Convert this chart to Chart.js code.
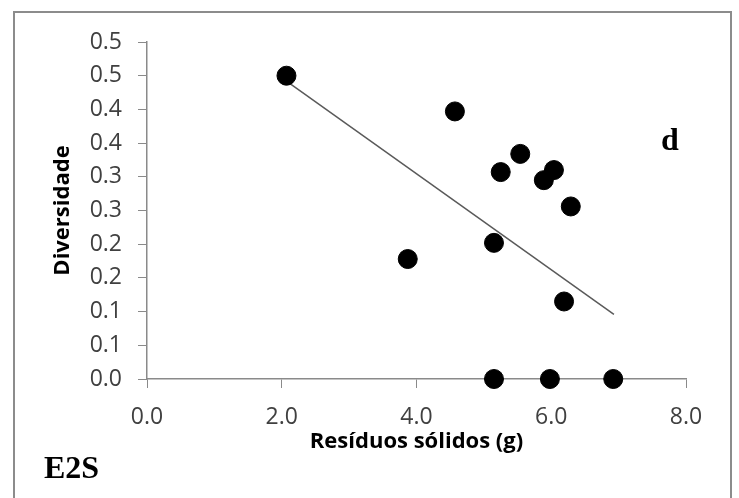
<!DOCTYPE html>
<html>
<head>
<meta charset="utf-8">
<script src="https://cdn.jsdelivr.net/npm/chart.js@4"></script>
<style>
  body { margin: 0; background: #fff; }
  #wrap { position: relative; width: 739px; height: 498px; overflow: hidden; }
  #frame { position: absolute; left: 13px; top: 11px; width: 715px; height: 500px;
           border: 2px solid #8c8c8c; }
  .tag { position: absolute; font-family: "Liberation Serif", "DejaVu Serif", serif;
         font-weight: bold; font-size: 32px; line-height: 32px; color: #000; }
</style>
</head>
<body>
<div id="wrap">
  <div id="frame"></div>
  <canvas id="chart" width="739" height="498"></canvas>
  <div class="tag" style="left:661px; top:123px;">d</div>
  <div class="tag" style="left:44px; top:451px;">E2S</div>
</div>
<script>
// values
const residuos = [2.07, 4.57, 5.54, 5.25, 6.04, 5.89, 6.29, 5.15, 3.87, 6.19, 5.15, 5.98, 6.92];
const diversidade = [0.450, 0.397, 0.334, 0.307, 0.310, 0.295, 0.256, 0.202, 0.178, 0.115, 0, 0, 0];

// linear trendline endpoints
const trendX = [2.07, 6.93];
const trendY = [0.442, 0.096];

// axis ticks (Excel shows one decimal, so labels repeat)
const xTickValues = [0, 2, 4, 6, 8];
const xTickLabels = ["0.0", "2.0", "4.0", "6.0", "8.0"];
const yTickValues = [0, 0.05, 0.1, 0.15, 0.2, 0.25, 0.3, 0.35, 0.4, 0.45, 0.5];
const yTickLabels = ["0.0", "0.1", "0.1", "0.2", "0.2", "0.3", "0.3", "0.4", "0.4", "0.5", "0.5"];

const axisGray = "#8a8a8a";
const tickFont = { family: "'Open Sans', sans-serif", size: 23 };
const titleFont = { family: "'Open Sans', sans-serif", size: 22, weight: "bold" };

const points = residuos.map((x, i) => ({ x: x, y: diversidade[i] }));
const trend = trendX.map((x, i) => ({ x: x, y: trendY[i] }));

new Chart(document.getElementById("chart"), {
  type: "scatter",
  data: {
    datasets: [
      {
        label: "Diversidade",
        data: points,
        backgroundColor: "#000",
        borderColor: "#000",
        pointRadius: 9.5,
        pointHoverRadius: 9.5,
        clip: false
      },
      {
        label: "Linear",
        type: "line",
        data: trend,
        borderColor: "#5a5a5a",
        borderWidth: 1.5,
        pointRadius: 0,
        fill: false
      }
    ]
  },
  options: {
    responsive: false,
    animation: false,
    layout: { padding: { left: 50, top: 42, right: 53, bottom: 43 } },
    plugins: { legend: { display: false }, tooltip: { enabled: false } },
    scales: {
      x: {
        type: "linear",
        min: 0,
        max: 8,
        afterBuildTicks: s => { s.ticks = xTickValues.map(v => ({ value: v })); },
        afterFit: s => { s.height = 76; },
        ticks: {
          callback: (v, i) => xTickLabels[i],
          color: "#404040",
          font: tickFont,
          padding: 16,
          maxRotation: 0
        },
        grid: { display: true, drawOnChartArea: false, drawTicks: true, tickLength: 9, color: axisGray },
        border: { display: true, color: axisGray, width: 1.5 },
        title: { display: true, text: "Resíduos sólidos (g)", color: "#000", font: titleFont, padding: 0 }
      },
      y: {
        type: "linear",
        min: 0,
        max: 0.5,
        afterBuildTicks: s => { s.ticks = yTickValues.map(v => ({ value: v })); },
        afterFit: s => { s.width = 97; },
        ticks: {
          callback: (v, i) => yTickLabels[i],
          color: "#404040",
          font: tickFont,
          padding: 16
        },
        grid: { display: true, drawOnChartArea: false, drawTicks: true, tickLength: 9, color: axisGray },
        border: { display: true, color: axisGray, width: 1.5 },
        title: { display: true, text: "Diversidade", color: "#000", font: titleFont, padding: 0 }
      }
    }
  }
});
</script>
</body>
</html>
